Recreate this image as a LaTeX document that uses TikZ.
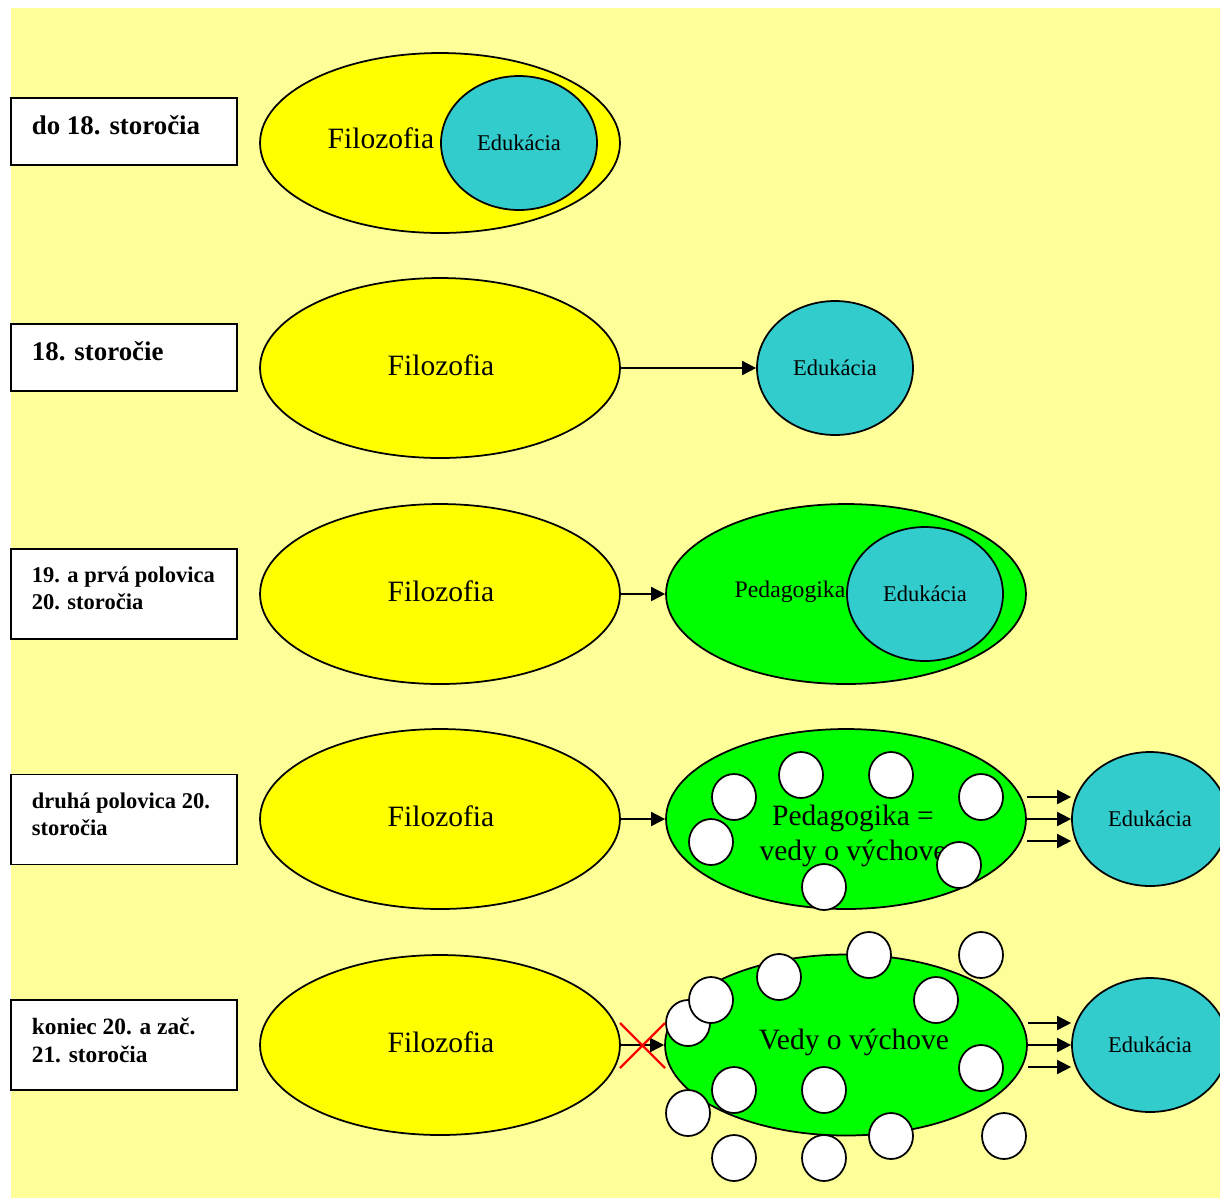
\documentclass[tikz,border=0pt]{standalone}
\usepackage{fontspec}
\setmainfont{Liberation Serif}
\usetikzlibrary{arrows.meta, shapes.geometric, positioning}
\definecolor{paleyellow}{RGB}{255,255,153}
\definecolor{filoyellow}{RGB}{255,255,0}
\definecolor{pedagreen}{RGB}{0,255,0}
\definecolor{edukteal}{RGB}{51,204,204}

\begin{document}
\begin{tikzpicture}[x=0.02cm, y=-0.02cm, line width=1pt,
    >={Triangle[length=8pt, width=8pt]},
    period/.style={draw, fill=white, rectangle, minimum width=4.52cm, inner sep=0pt},
    periodtext/.style={anchor=north west, align=left, inner sep=0pt,
        font=\bfseries\fontsize{12.8}{15.5}\selectfont},
    filo/.style={draw, fill=filoyellow, ellipse, minimum width=7.2cm, minimum height=3.6cm, inner sep=0pt},
    peda/.style={draw, fill=pedagreen, ellipse, minimum width=7.2cm, minimum height=3.6cm, inner sep=0pt},
    eduk/.style={draw, fill=edukteal, ellipse, minimum width=3.12cm, minimum height=2.68cm, inner sep=0pt,
        font=\fontsize{12.8}{15}\selectfont},
    veda/.style={draw, fill=white, ellipse, minimum width=0.88cm, minimum height=0.92cm, inner sep=0pt},
    bigtext/.style={font=\fontsize{16.8}{19.8}\selectfont, align=center, inner sep=0pt},
    smalltext/.style={font=\fontsize{13.5}{15}\selectfont, inner sep=0pt}]

    \useasboundingbox (0,0) rectangle (1220,1198);
    \fill [paleyellow] (11,8) rectangle (1220,1198);

    % periods on the left
    \node [period, minimum height=1.34cm] (per-1) at (124,131.5) {};
    \node [period, minimum height=1.34cm] (per-2) at (124,357.5) {};
    \node [period, minimum height=1.8cm] (per-3) at (124,594) {};
    \node [period, minimum height=1.8cm] (per-4) at (124,819.5) {};
    \node [period, minimum height=1.8cm] (per-5) at (124,1045) {};
    \node [periodtext, font=\bfseries\fontsize{15.3}{17}\selectfont] (per-1-text) at (31,115) {do 18. storočia};
    \node [periodtext, font=\bfseries\fontsize{15.3}{17}\selectfont] (per-2-text) at (31,341) {18. storočie};
    \node [periodtext] (per-3-text) at (31,566) {19. a prvá polovica\\20. storočia};
    \node [periodtext] (per-4-text) at (31,792) {druhá polovica 20.\\storočia};
    \node [periodtext, font=\bfseries\fontsize{13.3}{16}\selectfont] (per-5-text) at (31,1017) {koniec 20. a zač.\\21. storočia};

    % row 1
    \node [filo] (filo-1) at (440,143) {};
    \node [bigtext] (filo-1-text) at (381,138) {Filozofia};
    \node [eduk] (eduk-1) at (519,143) {Edukácia};

    % row 2
    \node [filo] (filo-2) at (440,368) {};
    \node [bigtext] (filo-2-text) at (441,365) {Filozofia};
    \node [eduk] (eduk-2) at (835,368) {Edukácia};
    \draw [->] (filo-2.east) -- (eduk-2.west);

    % row 3
    \node [filo] (filo-3) at (440,594) {};
    \node [bigtext] (filo-3-text) at (441,591) {Filozofia};
    \node [peda] (peda-3) at (846,594) {};
    \node [smalltext] (peda-3-text) at (790,592) {Pedagogika};
    \node [eduk] (eduk-3) at (925,594) {Edukácia};
    \draw [->] (filo-3.east) -- (peda-3.west);

    % row 4
    \node [filo] (filo-4) at (440,819) {};
    \node [bigtext] (filo-4-text) at (441,816) {Filozofia};
    \node [peda] (peda-4) at (846,819) {};
    \node [bigtext] (peda-4-text) at (853,836) {Pedagogika =\\vedy o výchove};
    \foreach \vx/\vy [count=\i] in {734/797, 801/775, 891/775, 981/797, 711/842, 959/865, 824/887}
        \node [veda] (veda-4-\i) at (\vx,\vy) {};
    \node [eduk] (eduk-4) at (1150,819) {Edukácia};
    \draw [->] (filo-4.east) -- (peda-4.west);
    \foreach \dy in {-0.44cm, 0cm, 0.44cm}
        \draw [->] ([yshift=\dy]peda-4.east) -- ([yshift=\dy]eduk-4.west);

    % row 5
    \node [filo] (filo-5) at (440,1045) {};
    \node [bigtext] (filo-5-text) at (441,1042) {Filozofia};
    \node [peda, minimum width=7.24cm, minimum height=3.62cm] (peda-5) at (846,1045) {};
    \node [bigtext] (peda-5-text) at (854,1042) {Vedy o výchove};
    \foreach \vx/\vy [count=\i] in {869/955, 981/955, 779/977, 688/1023, 711/1000, 936/1000, 981/1068,
            734/1090, 824/1090, 688/1113, 891/1136, 1004/1136, 734/1158, 824/1158}
        \node [veda] (veda-5-\i) at (\vx,\vy) {};
    \node [eduk] (eduk-5) at (1150,1045) {Edukácia};
    \draw [->] (filo-5.east) -- (peda-5.west);
    \foreach \dy in {-0.44cm, 0cm, 0.44cm}
        \draw [->] ([yshift=\dy]peda-5.east) -- ([yshift=\dy]eduk-5.west);
    % crossed out link
    \coordinate (cross-nw) at (620,1023);
    \coordinate (cross-se) at (665,1068);
    \coordinate (cross-sw) at (620,1068);
    \coordinate (cross-ne) at (665,1023);
    \draw [red, line width=1.3pt] (cross-nw) -- (cross-se) (cross-sw) -- (cross-ne);
\end{tikzpicture}
\end{document}
